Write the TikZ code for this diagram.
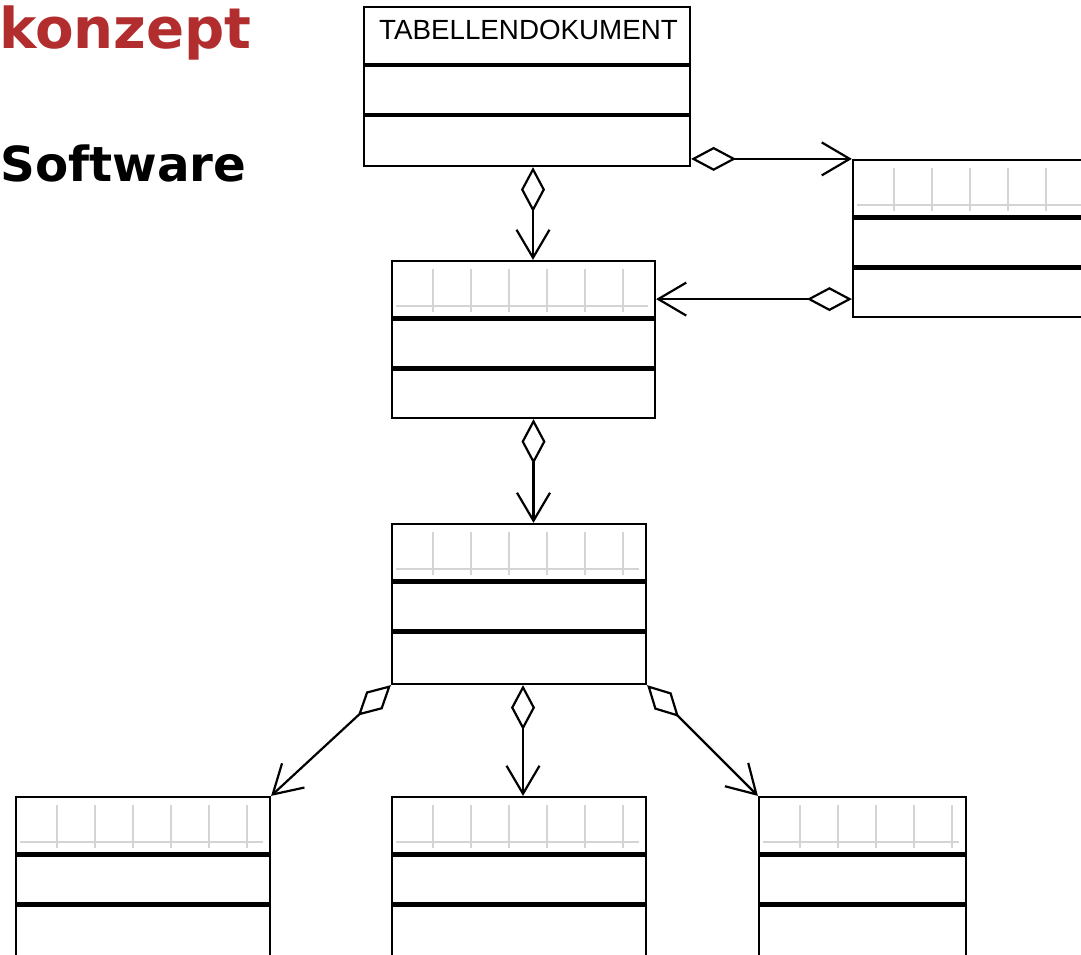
\documentclass[tikz,border=0pt]{standalone}
\usepackage{fontspec}
\newfontfamily\headfont{DejaVu Sans}
\newfontfamily\boxfont{Liberation Sans}
\usetikzlibrary{arrows.meta,fit}
\definecolor{titlered}{RGB}{178,46,46}
\definecolor{rulergray}{RGB}{212,212,212}

\begin{document}
\begin{tikzpicture}[x=0.02cm, y=-0.02cm,
        classbox/.style={draw, line width=1.25pt, inner sep=0pt},
        sepline/.style={line width=2.6pt},
        ruler/.style={rulergray, line width=0.6pt},
        agg/.style={line width=1.25pt, {Diamond[open,length=0.9cm,width=0.48cm]}-{Straight Barb[length=0.56cm,width=0.66cm]}}]
        \useasboundingbox (0,0) rectangle (1081,955);
        \clip (0,0) rectangle (1081,955);

        \node[anchor=base east, inner sep=0pt, text=titlered, font=\headfont\bfseries\fontsize{32}{38}\selectfont] (title) at (252,49) {konzept};
        \node[anchor=base west, inner sep=0pt, font=\headfont\bfseries\fontsize{27.5}{33}\selectfont] (subtitle) at (0,182) {Software};

        \node[classbox, fit={(364,7) (690,166)}] (doc) {};
        \draw[sepline] (364,65) -- (690,65);
        \draw[sepline] (364,115) -- (690,115);
        \node[anchor=base, inner sep=0pt, font=\boxfont\fontsize{15.8}{19}\selectfont] (doctitle) at (528.5,40) {TABELLENDOKUMENT};

        \foreach \n/\l/\t/\r/\b/\m in {rb/853/160/1090/317/5, m1/392/261/655/418/5, m2/392/524/646/684/5, bl/16/797/270/960/5, bm/392/797/646/960/5, br/759/797/966/960/4} {
            \node[classbox, fit={(\l,\t) (\r,\b)}] (\n) {};
            \draw[sepline] (\l,\t+57.5) -- (\r,\t+57.5);
            \draw[sepline] (\l,\t+107.5) -- (\r,\t+107.5);
            \draw[ruler] (\l+4,\t+45) -- (\r-7,\t+45);
            \foreach \k in {0,...,\m}
                \draw[ruler] (\l+41+38*\k,\t+8) -- (\l+41+38*\k,\t+51);
        }

        \coordinate (a1) at ([shift={(6,0)}]doc.south);
        \draw[agg] (a1) -- (a1 |- m1.north);
        \draw[agg] (doc.east |- rb.north) -- (rb.north west);
        \coordinate (a3) at ([shift={(0,-19)}]rb.south west);
        \draw[agg] (a3) -- (a3 -| m1.east);
        \coordinate (a4) at ([shift={(10,0)}]m1.south);
        \draw[agg] (a4) -- (a4 |- m2.north);
        \draw[agg] (m2.south west) -- (bl.north east);
        \coordinate (a6) at ([shift={(4,0)}]m2.south);
        \draw[agg] (a6) -- (a6 |- bm.north);
        \draw[agg] (m2.south east) -- (br.north west);
    \end{tikzpicture}
\end{document}
